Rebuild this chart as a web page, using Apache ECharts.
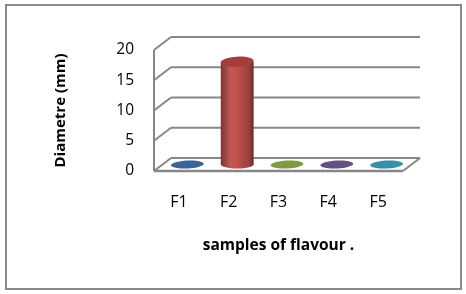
<!DOCTYPE html>
<meta charset="utf-8">
<style>
html, body { margin: 0; padding: 0; background: #fff; }
#frame {
  position: absolute; left: 5px; top: 4px;
  width: 453px; height: 282px;
  border: 2px solid #8a8a8a;
}
#container { position: absolute; left: 0; top: 0; width: 466px; height: 294px; }
</style>
<body>
<div id="frame"></div>
<div id="container"></div>
<script src="https://cdn.jsdelivr.net/npm/echarts@6/dist/echarts.min.js"></script>
<script>

var categories = ['F1', 'F2', 'F3', 'F4', 'F5'];
var diameters = [0, 17, 0, 0, 0];
var yTicks = [0, 5, 10, 15, 20];

// excel 2007 palette: side colour / top colour
var sideColors = ['#385d8a', '#c0504d', '#77933c', '#604a7b', '#31859c'];
var topColors = ['#3b6496', '#a23f3c', '#7e9b42', '#654f82', '#3690a8'];

var depth = [17, -13];
var gridColor = '#878787';

function shade(hex, f) {
  var n = parseInt(hex.slice(1), 16);
  var r = (n >> 16) & 255, g = (n >> 8) & 255, b = n & 255;
  function c(v) { return Math.max(0, Math.min(255, Math.round(f > 0 ? v + (255 - v) * f : v * (1 + f)))); }
  return 'rgb(' + c(r) + ',' + c(g) + ',' + c(b) + ')';
}

function renderWalls(params, api) {
  var bw = api.size([1, 0])[0];
  var x0 = api.coord([0, 0])[0] - bw / 2;
  var x1 = api.coord([categories.length - 1, 0])[0] + bw / 2;
  var dx = depth[0], dy = depth[1];
  var kids = [];
  var ln = function (a, b, w) {
    kids.push({ type: 'line', shape: { x1: a[0], y1: a[1], x2: b[0], y2: b[1] },
      style: { stroke: gridColor, lineWidth: w || 2 } });
  };
  yTicks.forEach(function (t) {
    var y = api.coord([0, t])[1];
    ln([x0, y], [x0 + dx, y + dy]);
    ln([x0 + dx, y + dy], [x1 + dx, y + dy]);
  });
  var yTop = api.coord([0, yTicks[yTicks.length - 1]])[1];
  var yBot = api.coord([0, 0])[1];
  ln([x0, yTop], [x0, yBot]);
  ln([x0, yBot], [x1, yBot], 2.5);
  ln([x1, yBot], [x1 + dx, yBot + dy]);
  return { type: 'group', children: kids };
}

function renderCylinder(params, api) {
  var i = api.value(0);
  var v = api.value(1);
  var bw = api.size([1, 0])[0];
  var base = api.coord([i, 0]);
  var top = api.coord([i, v]);
  var rx = bw * 0.33, ry = 5;
  var cx = base[0] + depth[0] / 2;
  var by = base[1] + depth[1] / 2;
  var ty = top[1] + depth[1] / 2;
  var col = sideColors[i];
  var kids = [];
  if (by - ty > 1) {
    var grad = new echarts.graphic.LinearGradient(0, 0, 1, 0, [
      { offset: 0, color: shade(col, -0.35) },
      { offset: 0.3, color: shade(col, 0.05) },
      { offset: 0.5, color: col },
      { offset: 0.85, color: shade(col, -0.2) },
      { offset: 1, color: shade(col, -0.45) }
    ]);
    kids.push({ type: 'ellipse', shape: { cx: cx, cy: by, rx: rx, ry: ry - 1 }, style: { fill: grad } });
    kids.push({ type: 'rect', shape: { x: cx - rx, y: ty, width: rx * 2, height: by - ty }, style: { fill: grad } });
    kids.push({ type: 'ellipse', shape: { cx: cx, cy: ty, rx: rx, ry: ry },
      rotation: 0.05, originX: cx, originY: ty,
      style: { fill: topColors[i] } });
  } else {
    kids.push({ type: 'ellipse', shape: { cx: cx, cy: by, rx: rx, ry: ry - 1 },
      rotation: 0.05, originX: cx, originY: by,
      style: { fill: topColors[i] } });
  }
  return { type: 'group', children: kids };
}

var myChart = echarts.init(document.getElementById('container'), null, { renderer: 'canvas' });

var option = {
  animation: false,
  grid: { left: 154, right: 63, top: 50, bottom: 123 },
  xAxis: {
    type: 'category',
    data: categories,
    axisLine: { show: false },
    axisTick: { show: false },
    axisLabel: { color: '#000', fontSize: 16, fontFamily: 'Open Sans', margin: 23 },
    name: 'samples of flavour .',
    nameLocation: 'middle',
    nameGap: 67,
    nameTextStyle: { color: '#000', fontSize: 15.5, fontWeight: 'bold', fontFamily: 'Open Sans' }
  },
  yAxis: {
    type: 'value',
    min: 0, max: 20, interval: 5,
    axisLine: { show: false },
    axisTick: { show: false },
    splitLine: { show: false },
    axisLabel: { color: '#000', fontSize: 15.5, fontFamily: 'Open Sans', margin: 20 },
    name: 'Diametre (mm)',
    nameLocation: 'middle',
    nameGap: 86,
    nameTextStyle: { color: '#000', fontSize: 15, fontWeight: 'bold', fontFamily: 'Open Sans' }
  },
  series: [
    {
      type: 'custom',
      renderItem: renderWalls,
      data: [[0, 0]],
      silent: true,
      z: 1
    },
    {
      type: 'custom',
      renderItem: renderCylinder,
      data: diameters.map(function (d, i) { return [i, d]; }),
      encode: { x: 0, y: 1 },
      z: 2
    }
  ]
};

myChart.setOption(option);
window.addEventListener('resize', myChart.resize);
</script>
</body>
